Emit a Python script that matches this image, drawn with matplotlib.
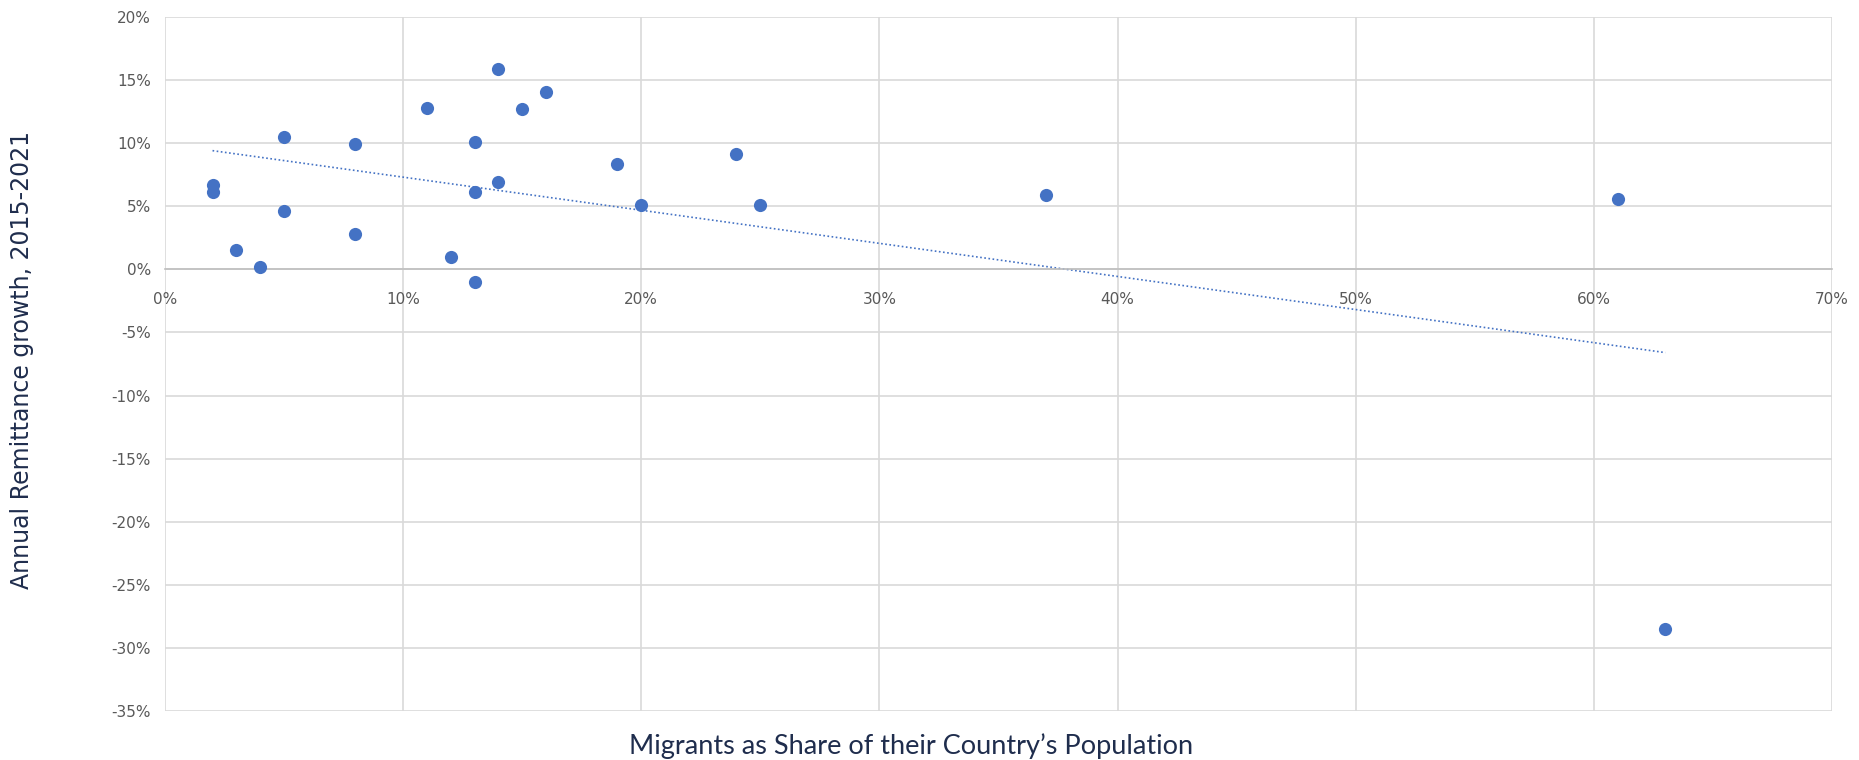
import numpy as np
import matplotlib
matplotlib.use("Agg")
import matplotlib.pyplot as plt
from matplotlib.ticker import FuncFormatter, MultipleLocator

# Migrants as share of population (%) and annual remittance growth 2015-2021 (%)
migrant_share = [2, 2, 3, 4, 5, 5, 8, 8, 11, 12, 13, 13, 13, 14, 14, 15, 16,
                 19, 20, 24, 25, 37, 61, 63]
remit_growth = [6.7, 6.1, 1.5, 0.2, 10.5, 4.6, 9.9, 2.8, 12.8, 1.0, 10.1, 6.1,
                -1.0, 15.9, 6.9, 12.7, 14.0, 8.3, 5.1, 9.1, 5.1, 5.9, 5.6, -28.5]

x_label = "Migrants as Share of their Country\u2019s Population"
y_label = "Annual Remittance growth, 2015-2021"

point_color = "#4472C4"
grid_color = "#D9D9D9"
tick_color = "#595959"
title_color = "#1F2D4D"

fig = plt.figure(figsize=(18.59, 7.6), dpi=100)
ax = fig.add_axes([0.0887, 0.064, 0.8968, 0.914])

x = np.array(migrant_share, dtype=float)
y = np.array(remit_growth, dtype=float)

ax.scatter(x, y, s=90, color=point_color, zorder=3, linewidths=0)

# linear trend line across the data range
slope, intercept = np.polyfit(x, y, 1)
xt = np.array([x.min(), x.max()])
ax.plot(xt, slope * xt + intercept, color=point_color, lw=1.2,
        linestyle=(0, (1, 1.5)), zorder=2)

ax.set_xlim(0, 70)
ax.set_ylim(-35, 20)
ax.xaxis.set_major_locator(MultipleLocator(10))
ax.yaxis.set_major_locator(MultipleLocator(5))
ax.xaxis.set_major_formatter(FuncFormatter(lambda v, p: f"{v:.0f}%"))
ax.yaxis.set_major_formatter(FuncFormatter(lambda v, p: f"{v:.0f}%"))

ax.grid(True, color=grid_color, lw=1.2, zorder=0)
ax.set_axisbelow(True)
for side in ["top", "right", "left"]:
    ax.spines[side].set_visible(False)
ax.spines["bottom"].set_position(("data", 0))
ax.spines["bottom"].set_color("#BFBFBF")
ax.spines["bottom"].set_linewidth(1.2)
ax.tick_params(axis="both", length=0, colors=tick_color, labelsize=11)
ax.tick_params(axis="x", pad=16)
ax.tick_params(axis="y", pad=10)
for lab in ax.get_xticklabels() + ax.get_yticklabels():
    lab.set_family(["Liberation Sans Narrow", "DejaVu Sans"])

fig.text(0.490, 0.018, x_label, ha="center", va="center", fontsize=19.5,
         color=title_color, family=["Lato", "DejaVu Sans"])
fig.text(0.012, 0.526, y_label, ha="center", va="center", rotation=90,
         fontsize=17, color=title_color, family=["DejaVu Sans"])

fig.savefig("out.png", dpi=100, facecolor="white")
